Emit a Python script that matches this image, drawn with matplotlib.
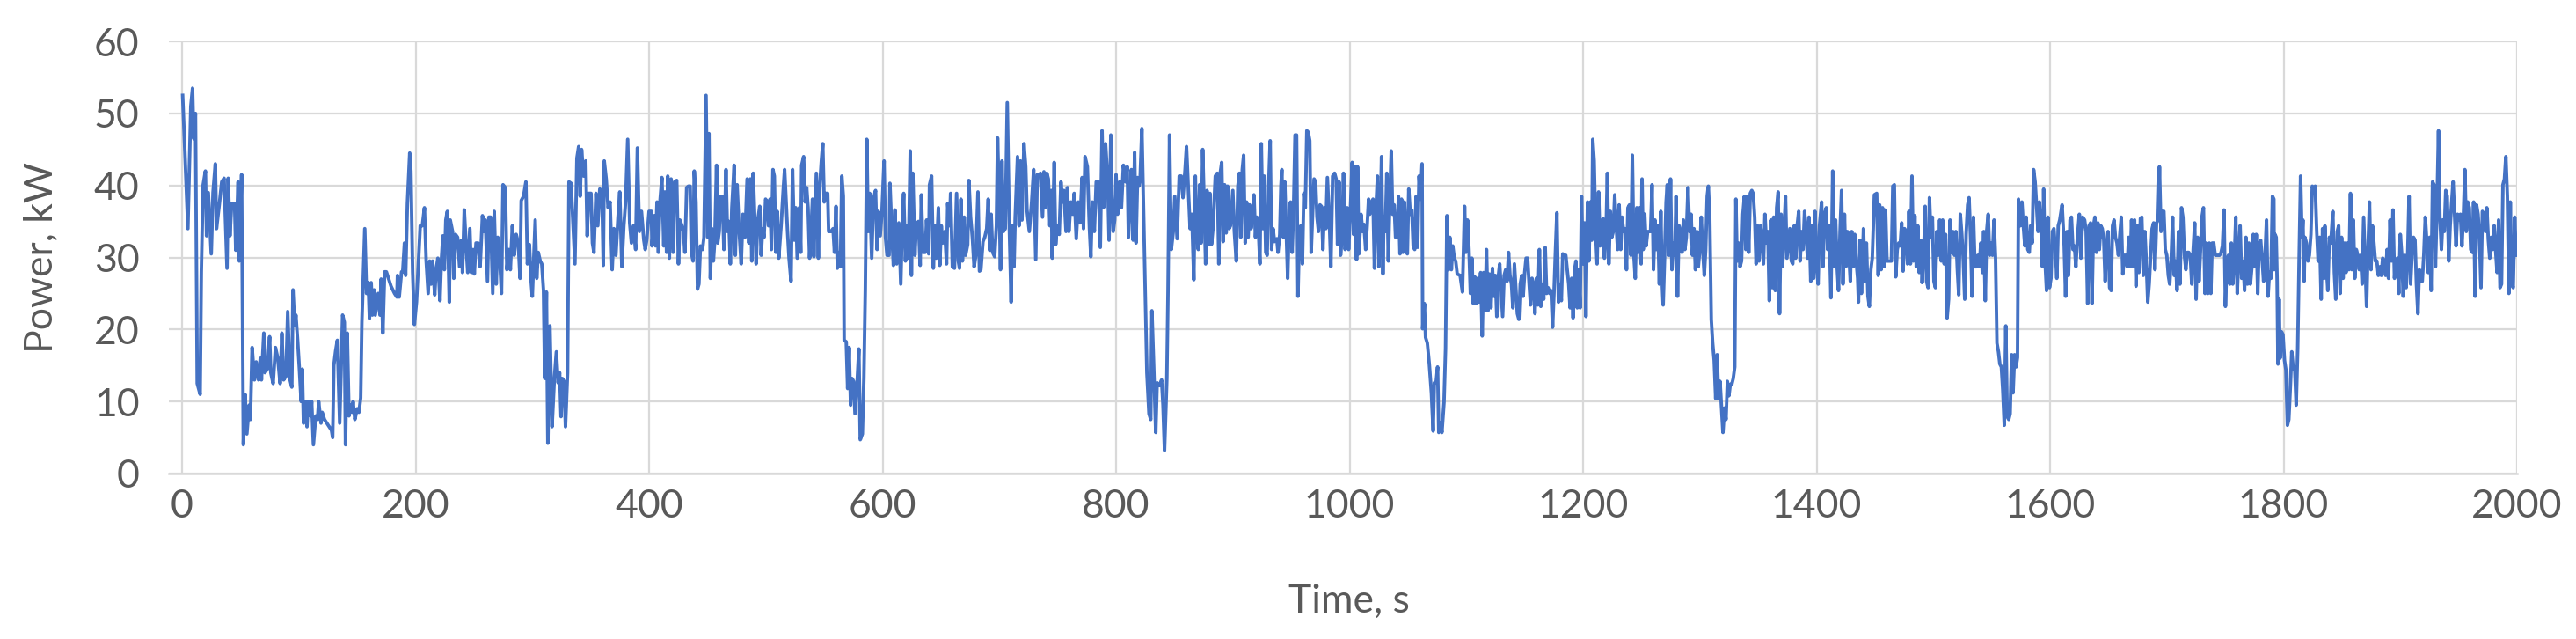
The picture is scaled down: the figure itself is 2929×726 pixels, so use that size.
import matplotlib
matplotlib.use("Agg")
import matplotlib.pyplot as plt

# (time s, power kW) readings, one list per 200-s stretch
seg_0000 = [(0.5,52.5),(5,34),(7.5,51),(9,53.5),(10,46.5),(11.5,50),(13,12.5),(15.5,11),(16.5,28),(18,40),
    (20,42),(21,33),(22.5,39),(25,30.5),(26.5,39),(28.5,43),(29.5,34),(32,37.5),(34,40.5),(36,41),
    (38.5,28.5),(39.5,41),(41,33),(42.5,37.5),(45,37.5),(46,31),(48,40.5),(49,29.5),(51,41.5),(52.5,4),
    (54,11),(55.5,5.5),(57.5,9.5),(58.5,7.5),(60,17.5),(62,13),(63.5,15.5),(65.5,13),(67,16),(68,13),
    (70,19.5),(71,14),(73,14.5),(75,19),(76,14),(78,12.5),(80,17.5),(82,16),(84,12.5),(85.5,19.5),
    (87,13),(89,13.5),(90.5,22.5),(92.5,13),(94,12),(95,25.5),(96.5,20.5),(97.5,22),(99,18.5),(100.5,14.5),
    (102,10),(103,14.5),(104,7),(105.5,10),(107,6.5),(108,10),(110,8),(111,10),(112.5,4),(114.5,8),
    (116,7.5),(117,10),(119,7),(120,8.5),(122,7.5),(124,7),(126,6.5),(128,6),(129,5),(130,15),
    (131.5,17),(133,18.5),(135,7),(137.5,22),(139,21),(140,4),(141.5,19.5),(143,8),(144,9.5),(145.5,8.5),
    (146.5,10),(148,7.5),(150,9),(151.5,8.5),(153,10.5),(154,21),(156.5,34),(158,25),(159.5,26.5),(160.5,21.5),
    (162,26.5),(163,22),(164.5,25.5),(165.5,22),(168,25),(169.5,22),(170.5,27),(172,19.5),(173.5,28),(175,28),
    (177,27),(179,26),(182,25),(184,24.5),(184.5,27.5),(186,24.5),(188,28),(189,28),(190.5,32),(191.5,27.5),
    (193,37.5),(195,44.5),(196,42),(197.5,28),(199,20.7)]

seg_0200 = [(200.8,23.8),(202.5,29.5),(204,34.4),(205.8,34.4),(207.6,36.9),(209.1,29.5),(210.8,25),(212.1,29.5),
    (213.3,26.3),(214.6,29.5),(216.4,24.8),(217.6,28.3),(219.1,29.9),(220.9,24),(222.1,29.5),(223.4,33),
    (224.7,28.3),(225.9,35.2),(227.2,36.4),(228.9,23.8),(229.7,35.2),(231.7,33.6),(232.7,27.1),(234.2,33.2),
    (236,32.8),(237.7,28.7),(239.2,32.4),(240.2,27.9),(241.7,36.6),(243.5,31.1),(244.7,27.9),(246.5,34),
    (247.8,27.9),(249.3,31.1),(250.3,27.7),(251.8,32),(253.5,32),(255.3,28.7),(257.3,35.8),(258.6,33.6),
    (259.8,35.2),(261.6,26.7),(262.8,35.6),(264.3,35.6),(266.1,25),(267.4,36.4),(269.1,26.3),(270.4,32.8),
    (271.9,30.3),(273.6,25),(274.9,40.1),(276.9,39.7),(278.2,28.3),(279.9,31.1),(281.2,28.3),(282.9,34.4),
    (284.5,30.3),(286.2,33.2),(288,32),(289.5,27.1),(290.5,37.9),(292.5,38.5),(294.5,40.5),(295.8,29.1),
    (297.5,31.8),(298.8,27.1),(300,24.6),(301.3,30.3),(302.5,35.2),(303.8,27.1),(305.1,30.7),(306.8,29.5),
    (308.1,29.1),(309.6,25.4),(310.6,13.2),(312.1,25.2),(313.3,4.2),(315.1,20.5),(316.9,6.5),(318.9,13.2),
    (320.6,16.9),(322.1,12.6),(323.4,14),(324.6,7.9),(325.7,13.2),(327.2,12.8),(328.4,6.5),(330.2,14),
    (331.4,40.5),(333.2,40.3),(334.7,35.2),(336.5,29.1),(338.2,43.8),(339.7,45.4),(341,38.5),(342.2,45),
    (344,41.3),(345.8,43.4),(347,33),(348.3,38.9),(350.3,38.9),(351.5,32),(352.8,30.7),(354.5,38.9),
    (356.1,34.4),(357.8,39.5),(359.6,39.3),(360.8,28.9),(361.6,43.4),(363.3,40.9),(364.9,36.9),(366.6,37.7),
    (368.4,28.3),(369.9,34),(371.6,30.3),(373.4,35.6),(374.9,39.1),(376.7,28.7),(378.4,34.4),(379.9,37.7),
    (381.7,46.4),(383.4,34.8),(384.9,32),(386.7,34.4),(388.5,31.1),(390,45.2),(391.7,33.6),(393.5,36.4),
    (395.5,32.4),(396.7,31.1)]

seg_0400 = [(398,32.4),(400,36.4),(402,36.4),(402.5,31.6),(404.3,35.8),(405.6,31.6),(406.8,37.7),(408,30.7),
    (409.3,37.7),(411,41.1),(412.6,31.6),(413.6,39.1),(415,30.7),(416,41.3),(417.4,29.9),(418.9,40.9),
    (420.6,30.7),(421.9,40.5),(423.7,40.7),(425.2,29.1),(426.4,35.2),(428.2,34.4),(429.4,33.6),(430.7,30.7),
    (432.2,39.7),(433.7,39.9),(435.2,39.9),(436.2,30.7),(437.7,29.5),(438.7,42),(440.2,37.7),(441.5,25.6),
    (442.7,26.3),(444,31.6),(445.8,31.1),(447,32.8),(448.8,52.5),(450.3,32.8),(451.3,47.2),(452.5,27.1),
    (453.8,34),(455.1,29.5),(456.3,32.4),(457.8,42.8),(458.8,32),(460.1,33.6),(461.3,38.5),(462.8,38.5),
    (464.1,31.1),(465.9,42.2),(467.1,33.6),(468.4,35),(469.6,29.1),(470.9,36.9),(472.9,42.8),(473.9,30.3),
    (475.4,40.1),(477.2,33.6),(478.9,29.1),(480.4,36),(482.2,32.8),(484,40.9),(485.5,32),(486.7,40.9),
    (488,29.5),(489.2,41.7),(490.5,35.6),(491.7,29.1),(493,35),(494.8,37.1),(496,30.3),(497.3,34),
    (498.5,32.8),(499.8,38.1),(501,37.7),(502.3,34.4),(503.6,38.1),(504.8,31.1),(506.1,42.2),(507.3,41.3),
    (508.6,30.7),(509.8,36.4),(511.1,29.9),(513.1,34.4),(514.9,39.3),(516.1,42.2),(517.4,37.7),(518.6,33.6),
    (519.9,29.9),(521.6,26.7),(522.9,42.2),(524.4,32.4),(525.7,36.9),(526.9,29.9),(528.7,36.9),(529.9,30.7),
    (530.7,42.8),(532.4,44),(533.7,37.7),(535,39.7),(536.2,36.9),(537.5,29.9),(538.7,33.6),(540,38.1),
    (541.2,30.1),(543.3,41.7),(545,29.9),(546.3,40.1),(547.5,43.2),(548.8,45.8),(550,37.7),(551.3,38.9),
    (553,38.9),(553.8,33.6),(555.8,33.6),(557.6,34),(558.8,30.7),(560.1,37.1),(561.3,28.5),(562.6,30.7),
    (563.9,28.7),(565.1,41.3),(566.4,38.5),(567.1,18.5),(568.9,18.3),(570.1,11.8),(571.4,17.5),(572.6,9.5),
    (573.9,13.2),(575.2,12.8),(576.4,8.3),(578.4,13.2),(579.7,17.3),(580.9,4.7),(582.7,5.5),(584,13.2),
    (585.2,25.4),(586.5,46.4),(587.7,33.6),(589,38.9),(590.7,29.9),(592.2,38.1),(594,39.3),(595.3,31.1)]

seg_0600 = [(596.3,36.4),(598,33),(599.5,36.4),(601.3,43.4),(602.5,32.8),(603.8,30.3),(605.6,30.3),(606.3,40.3),
    (608.1,32.8),(609.3,28.9),(610.6,36.6),(612.1,29.1),(613.9,34.8),(615.6,26.3),(616.9,34.8),(618.1,38.9),
    (619.6,29.5),(620.9,34.4),(622.1,29.9),(623.7,44.8),(624.7,27.5),(625.9,41.7),(627.7,30.3),(628.9,34.4),
    (630.7,35),(632.2,28.9),(633.2,38.7),(634.7,30.7),(636.5,30.7),(637.7,35.2),(639.5,30.5),(640.2,40.1),
    (642,41.3),(643.5,28.5),(644.8,34.4),(646,29.9),(647.8,36.9),(649,28.9),(650.3,34.4),(651.5,32),
    (653.3,33.6),(654.8,29.1),(655.8,37.5),(657.3,34.4),(658.3,38.9),(659.8,28.7),(661.6,28.5),(663.4,38.9),
    (664.9,29.5),(665.9,28.5),(667.1,38.1),(668.4,29.5),(669.9,35.6),(671.1,30.3),(672.9,31.8),(673.9,40.7),
    (675.4,35.6),(676.9,32.8),(678.4,28.7),(679.9,30.3),(681.7,39.1),(683,28.1),(684.2,28.3),(686,32.2),
    (687.5,32.8),(689.2,34),(690.5,38.1),(691.7,31),(693,36),(694.3,30.7),(696,30.1),(697.5,34.4),
    (698.5,46.6),(700,37.7),(701,28.3),(702.3,43.4),(703.6,33.6),(705.1,34),(706.8,51.5),(708.6,34),
    (710.1,23.8),(711.1,34.4),(712.6,28.7),(713.6,35.6),(715.6,44),(716.9,34.4),(718.1,43.4),(719.4,35.2),
    (721.1,45.8),(722.6,42.6),(723.7,36.6),(725.7,33.6),(727.7,37.7),(729.4,42.2),(731.2,29.7),(732.5,41.5),
    (733.7,41.3),(735.2,41.7),(737,35.6),(738.2,41.9),(739.5,36.9),(740.7,41.7),(742,40.9),(743.3,34.4),
    (744.5,39.3),(745.3,29.9),(747,43.2),(748.3,31.8),(749.5,34.4),(751.3,33.2),(752.8,40.5),(754.1,37.7),
    (755.3,39.3),(757.1,33.6),(758.3,39.7),(759.6,33.6),(761.3,37.7),(762.9,36),(764.1,38.9),(765.9,32.6),
    (767.6,37.7),(769.1,34.8),(770.9,41.1),(772.1,34),(773.4,44),(775.4,42.6),(777.2,34),(778.4,30.1),
    (779.7,37.7),(781.4,33.6),(783,40.5),(784.7,40.5),(786.5,31.4),(788,47.6),(789.2,36.9),(791,45.8),
    (792.8,40.9),(794,32.4),(795.5,47)]

seg_0800 = [(796.3,38.5),(797.5,33.6),(798.8,35.2),(800,41.5),(801.3,36),(803.1,40.5),(804.6,36.9),(806.3,42.8),
    (808.1,40.5),(809.6,42.6),(810.6,32.8),(812.1,37.7),(813.1,42.2),(814.6,32.4),(815.9,44.6),(817.1,32),
    (818.4,41.1),(819.6,39.9),(820.6,40.9),(822.1,47.9),(823.9,33.6),(825.2,23),(826.4,14),(828.2,8.3),
    (829.7,7.5),(830.7,22.6),(832.2,15.2),(834,5.7),(835.2,12.6),(837.2,12.2),(839,13),(840.2,9.5),
    (841.5,3.2),(843.5,13.2),(844.5,25.4),(845.8,47),(847.3,31.1),(849,33.6),(850.3,38.5),(852.3,32.6),
    (854.1,41.3),(855.8,41.3),(857.3,38.3),(859.1,42.2),(860.3,45.4),(861.6,40.5),(863.4,34),(864.9,36),
    (866.6,26.9),(867.9,41.3),(869.1,33.6),(870.4,31.1),(871.6,40.1),(872.9,32),(874.2,45),(875.4,37.7),
    (876.7,29.1),(877.9,39.3),(879.2,31.8),(880.4,38.9),(881.7,31.8),(883,34),(885,41.3),(886.7,41.7),
    (888,29.1),(889.2,41.7),(890.5,43.2),(891.7,32.2),(893,40.1),(894.3,33.4),(895.5,39.9),(896.8,34),
    (898,34.4),(900,39.3),(901.3,33.6),(903,29.5),(904.3,39.9),(905.6,41.7),(906.8,32.8),(908.1,42.2),
    (909.3,44.2),(910.6,32),(911.8,37.7),(913.1,32.8),(914.4,37.3),(915.6,34),(916.9,35.6),(918.1,38.7),
    (919.4,32.8),(920.6,35.6),(921.9,34),(923.2,29.1),(924.4,45.8),(925.7,34),(926.9,41.3),(928.2,30.7),
    (929.4,30.3),(930.7,39.9),(932,46.2),(933.2,31.1),(934.5,34),(935.7,32.2),(937.7,32.6),(938.7,30.7),
    (940.2,33.2),(941.2,39.9),(942,42.2),(943.3,32.8),(944.5,40.5),(945.8,33.6),(947,27.1),(948.3,35.2),
    (949.5,37.7),(950.8,30.7),(952,36.4),(953.3,47),(954.6,47),(955.8,24.6),(957.1,34),(958.3,34.4),
    (959.6,29.1),(960.8,38.9),(962.1,36.9),(963.4,47.6),(964.6,47.4),(965.9,46.2),(967.1,30.7),(968.4,36.4),
    (969.6,40.9),(970.9,40.5),(972.1,35.6),(973.4,33.6),(974.7,37.3),(975.9,37.1),(977.2,31.1),(978.4,36.9),
    (979.7,34),(981,41.1),(983,33.6),(984,28.7),(985.5,41.3),(987.2,41.7),(988.5,40.9),(989.7,31.8),
    (991,40.5),(992.3,30.3),(993.5,32.8),(994.8,41.7)]

seg_1000 = [(996.2,31.1),(998,36.9),(999.2,31.1),(1000.5,35.6),(1002.2,43.2),(1003.5,33.2),(1004.8,42.6),(1006,29.7),
    (1006.8,42.6),(1008,30.5),(1009.8,36),(1011.3,33.6),(1012.3,34.6),(1013.8,31.1),(1015.1,34.4),(1016.3,38.1),
    (1017.3,36),(1018.8,37.7),(1020.1,38.1),(1021.3,28.5),(1022.4,36),(1023.9,41.3),(1025.1,28.7),(1026.1,33.6),
    (1027.4,44),(1028.6,27.7),(1029.4,35.6),(1030.6,33.6),(1031.9,41.7),(1033.2,29.5),(1034.4,37.7),(1035.7,44.8),
    (1036.9,36),(1038.2,37.3),(1039.4,32.8),(1040.7,32.8),(1041.9,38.5),(1043.2,30.5),(1044.5,38.1),(1045.7,30.7),
    (1047,37.7),(1048.2,32.8),(1049.5,30.5),(1050.7,39.5),(1052,36),(1053.3,36.6),(1054.5,31.6),(1055.8,31.1),
    (1057,38.5),(1058.3,31.4),(1059.5,41.3),(1060.8,38.1),(1062.1,43),(1062.6,20.1),(1064.1,23.6),(1065.1,18.9),
    (1066.6,18.1),(1068.3,15.2),(1070.1,11.2),(1071.6,5.9),(1072.6,12.6),(1074.1,12.6),(1075.4,14.8),(1076.4,5.7),
    (1077.9,7.1),(1079.1,5.7),(1080.9,9.9),(1082.2,17.3),(1083.4,35.8),(1084.7,28.3),(1085.9,32.8),(1087.2,28.3),
    (1088.4,31.6),(1089.7,29.9),(1090.9,29.5),(1092.2,27.7),(1094.7,27.5),(1096.7,25.2),(1098.5,37.1),(1099.7,30.7),
    (1101,35.2),(1102.3,31.1),(1103.5,25),(1104.8,29.9),(1106,23.6),(1107.3,27.3),(1108.5,23.6),(1109.8,27.1),
    (1111,23.8),(1112.3,27.9),(1113.6,19.1),(1114.8,27.9),(1116.1,22.6),(1117.3,31.1),(1118.6,22.6),(1119.8,27.7),
    (1121.1,23),(1122.4,28.5),(1123.6,24.6),(1124.9,27.5),(1126.1,21.8),(1127.4,27.3),(1128.6,29.1),(1129.9,25.4),
    (1131.1,21.8),(1132.4,27.5),(1133.7,28.3),(1134.9,26.7),(1136.2,30.7),(1137.4,27.5),(1138.7,26.3),(1139.9,23),
    (1141.2,29.1),(1142.5,25.4),(1143.7,22.2),(1145,21.4),(1146.2,26.3),(1147.5,27.5),(1148.7,24.6),(1150,27.9),
    (1151.2,29.9),(1152.5,29.9),(1153.8,26.3),(1155,23.4),(1156.3,27.1),(1157.5,26.3),(1158.8,22.2),(1160,27.1),
    (1161.3,23.4),(1162.6,31.1),(1163.8,23.2),(1165.1,26.3),(1166.3,24.2),(1167.6,31.4),(1168.8,25),(1170.1,25.8),
    (1171.4,25),(1172.6,25.4),(1173.9,20.3),(1175.1,25),(1176.4,31.1),(1177.6,36.2),(1178.9,23.8),(1180.1,26.3),
    (1181.4,24),(1182.6,30.5),(1183.9,30.3),(1185.2,30.3),(1186.4,28.3),(1187.7,26.3),(1188.9,23),(1190.2,27.1),
    (1191.4,21.6),(1192.7,28.3),(1193.9,29.5)]

seg_1200 = [(1195,23),(1196.2,28.3),(1197.5,23),(1198.7,38.5),(1200,29.1),(1201.3,34.8),(1202.5,21.8),(1203.8,37.7),
    (1205,29.5),(1206.3,37.7),(1207.5,32.4),(1208.3,46.4),(1209.5,43.4),(1210.8,33.6),(1212,29.1),(1213.3,39.1),
    (1214.6,31.6),(1215.8,34.4),(1217.1,35.4),(1218.3,29.9),(1219.6,32.8),(1220.8,41.7),(1222.1,29.1),(1223.4,36.4),
    (1224.6,32.8),(1225.9,33.6),(1227.1,38.7),(1228.4,34.4),(1229.6,31.1),(1230.9,37.3),(1232.2,31.1),(1233.4,35.6),
    (1234.7,33.6),(1235.9,34),(1237.2,28.3),(1238.4,36.9),(1239.7,37.3),(1241,30.3),(1242.2,44.2),(1243.5,30.3),
    (1244.7,27.1),(1246,36.9),(1247.2,30.7),(1248.5,36.9),(1249.7,29.1),(1250.5,40.9),(1251.5,31.1),(1252.8,36),
    (1254,31.6),(1255.3,33.6),(1256.5,33.6),(1257.8,33.6),(1259.1,40.1),(1260.3,28.3),(1261.6,35.2),(1262.8,31.1),
    (1264.1,34.4),(1265.3,26.3),(1266.6,36.4),(1267.8,26.3),(1268.6,23.4),(1269.8,29.9),(1271.1,37.7),(1272.1,40.1),
    (1273.6,30.3),(1274.9,40.9),(1276.1,28.3),(1277.4,32),(1278.6,30.3),(1279.6,38.5),(1280.9,24.6),(1282.2,34.4),
    (1283.4,33.6),(1284.7,30.7),(1285.9,35.2),(1287.2,31.1),(1288.4,32.8),(1289.9,39.7),(1291.2,33.6),(1292.5,36),
    (1293.7,30.3),(1295,34),(1296.2,28.3),(1297.5,33.6),(1298.7,28.7),(1300,31.1),(1301.2,35.6),(1302.5,31.1),
    (1303.8,27.5),(1305,31.1),(1306.3,38.5),(1307.3,39.9),(1308.5,35.6),(1309.8,21.4),(1311,18.1),(1312.3,15.7),
    (1313.6,10.4),(1314.8,16.5),(1316.1,10.4),(1317.3,12.8),(1318.6,9.1),(1319.8,5.7),(1321.1,9.1),(1322.4,7.5),
    (1323.6,12.8),(1324.9,10.8),(1326.1,12.4),(1327.4,12.4),(1328.6,13.2),(1329.9,14.8),(1330.9,38.1),(1331.9,29.5),
    (1333.2,32),(1334.4,28.7),(1335.7,29.5),(1336.9,36),(1338.2,38.5),(1339.4,31.1),(1340.7,38.5),(1341.9,30.7),
    (1343.2,38.9),(1344.5,39.3),(1345.7,38.9),(1347,35.6),(1348.2,29.1),(1349.5,34.4),(1350.7,29.5),(1352,34.4),
    (1353.3,32.8),(1354.5,29.1),(1355.8,36),(1357,32),(1358.3,33.6),(1359.5,24),(1360.8,35.2),(1362.1,25.8),
    (1363.3,35.6),(1364.6,25.4),(1365.8,36.9),(1367.1,39.1),(1368.3,22.2),(1369.6,36),(1370.9,28.7),(1372.1,33.6),
    (1373.4,38.5),(1374.6,29.9),(1375.9,32),(1377.1,34),(1378.4,29.5),(1379.6,29.1),(1380.9,34.4),(1382.1,29.9),
    (1383.4,34.4),(1384.7,36.4),(1385.9,29.5),(1387.2,33.6),(1388.4,31.1),(1389.7,36.4),(1390.9,34),(1392.2,29.9),
    (1393.5,35.6)]

seg_1400 = [(1395,26.7),(1396.2,34.4),(1397.5,27.1),(1398.7,36.4),(1400,29.1),(1401.3,26.3),(1402.5,34.4),(1404.3,37.7),
    (1405.5,28.7),(1406.8,36),(1408.3,36.9),(1409.5,31.1),(1410.8,34.4),(1412.3,24.4),(1413.8,42),(1415.1,28.7),
    (1416.3,35.2),(1417.6,28.7),(1418.8,25.4),(1420.1,33.6),(1421.4,39.3),(1422.6,26.3),(1423.9,36),(1425.1,28.7),
    (1426.4,33.6),(1427.6,30.7),(1428.9,26.7),(1430.1,33.6),(1431.4,28.7),(1432.7,33.2),(1433.9,29.5),(1435.2,27.1),
    (1435.9,23.8),(1437.2,32.4),(1438.4,25),(1440.2,34),(1441.4,26.7),(1442.7,32),(1444,24.6),(1445.2,23.2),
    (1446.5,28.3),(1447.7,29.9),(1449.5,38.7),(1451.5,38.9),(1452.8,27.5),(1454,37.3),(1455.3,28.3),(1456.5,36.9),
    (1457.8,28.7),(1459.1,36.6),(1460.3,29.5),(1462.8,29.5),(1464.1,29.5),(1465.3,39.9),(1466.6,40.1),(1467.8,27.3),
    (1469.1,31.1),(1470.3,32),(1471.6,31.6),(1472.9,34.8),(1474.1,28.1),(1475.4,34),(1476.6,33.6),(1477.9,29.1),
    (1479.1,36.4),(1480.4,29.1),(1481.7,41.3),(1482.9,29.5),(1484.2,35.8),(1485.4,28.7),(1486.7,34.4),(1487.9,27.9),
    (1489.2,32.4),(1490.4,26.5),(1491.7,30.3),(1493,37.1),(1494.2,26.7),(1495.5,25.8),(1496.7,38.3),(1498,32.8),
    (1499.2,35.6),(1500.5,26.7),(1501.8,25.8),(1503,33.6),(1504.3,30.3),(1505.5,35.2),(1506.8,29.5),(1508,35.2),
    (1509.3,29.1),(1510.5,33.2),(1511.8,21.6),(1513.1,24.2),(1514.3,35.2),(1515.6,30.7),(1516.8,33.6),(1518.1,30.3),
    (1519.3,33.6),(1520.6,28.3),(1521.8,24.8),(1523.1,36),(1524.4,33.2),(1525.6,29.9),(1526.9,24.2),(1528.1,33.2),
    (1529.4,37.3),(1530.6,38.3),(1531.9,32.8),(1533.2,24.6),(1534.4,35.6),(1535.7,28.7),(1536.9,28.7),(1538.2,30.3),
    (1539.4,28.7),(1540.7,32),(1542,27.9),(1543.2,33.6),(1544.5,24),(1545.7,33.6),(1547,36),(1548.2,30.3),
    (1549.5,32),(1550.7,30.3),(1552,35.2),(1553.3,29.9),(1554.5,18.1),(1555.8,16.9),(1557,15.2),(1558.3,14.8),
    (1559.5,11.6),(1560.8,6.7),(1562.1,20.5),(1563.3,7.9),(1564.6,7.5),(1565.8,8.3),(1567.1,16.5),(1568.3,11.2),
    (1569.6,16.5),(1570.9,14.8),(1572.1,16.1),(1572.9,38.1),(1574.6,34.4),(1575.9,37.7),(1577.1,34.4),(1578.4,31.6),
    (1579.6,35.6),(1580.9,31.1),(1582.2,30.7),(1583.4,34.4),(1584.7,32),(1585.9,42.2),(1587.2,40.5),(1588.4,37.3),
    (1589.7,33.6),(1590.9,37.7),(1592.2,34),(1593.5,28.7)]

seg_1600 = [(1594.5,39.5),(1595.7,29.5),(1597,25.4),(1598.2,35.6),(1599.5,25.8),(1600.8,27.1),(1602,33.6),(1603.3,34),
    (1604.5,31.1),(1605.8,27.1),(1607,34.4),(1608.3,35.2),(1610.3,37.3),(1612.1,31.6),(1613.3,24.6),(1614.6,33.6),
    (1615.8,27.5),(1617.1,35.2),(1618.3,35.6),(1619.6,31.1),(1620.9,31.6),(1622.1,28.7),(1623.4,32.8),(1625.1,36),
    (1626.4,29.9),(1627.9,35.6),(1629.6,35.2),(1630.9,33.6),(1632.2,23.6),(1633.4,34.4),(1634.7,34.8),(1635.9,23.6),
    (1637.2,34.4),(1638.4,35.6),(1639.7,30.7),(1641,34.8),(1642.2,31.1),(1643.5,34.4),(1644.7,34),(1646,32.4),
    (1647.2,26.7),(1648.5,32),(1649.7,33.6),(1651,25.8),(1652.3,25.4),(1653.5,34.4),(1654.8,35.2),(1656,32.8),
    (1657.3,32),(1658.5,30.3),(1659.8,33.2),(1661,35.6),(1662.3,27.7),(1663.6,30.3),(1664.8,30.3),(1666.1,28.7),
    (1667.3,32.8),(1668.6,28.7),(1669.8,35.2),(1671.1,28.7),(1672.4,35.2),(1673.6,26),(1674.9,34.4),(1676.1,27.9),
    (1677.4,35.4),(1678.6,35.6),(1679.9,27.5),(1681.2,33.6),(1682.4,29.5),(1683.7,23.8),(1684.9,26.3),(1686.2,30.3),
    (1687.4,34),(1688.7,34.8),(1689.9,28.3),(1691.2,34.8),(1692.5,35.2),(1693.7,42.6),(1695,33.6),(1696.2,36.4),
    (1697.5,36.4),(1698.7,31.1),(1700,30.3),(1701.3,27.5),(1702.5,26.3),(1703.8,29.9),(1705,35.6),(1706.3,27.5),
    (1707.5,29.5),(1708.8,25.4),(1710,33.6),(1711.3,26.3),(1712.6,36.9),(1713.8,35.6),(1715.1,30.3),(1716.3,28.3),
    (1717.6,30.7),(1718.8,30.7),(1720.1,30.3),(1721.4,26.3),(1722.6,31.1),(1723.9,34.8),(1725.1,24.2),(1726.4,32.8),
    (1727.6,26.7),(1728.9,31.1),(1730.1,35.6),(1731.4,36.9),(1732.7,25),(1733.9,32),(1735.2,25),(1736.4,32),
    (1737.7,25),(1738.9,32),(1740.2,32),(1741.5,30.3),(1742.7,30.3),(1744,30.3),(1745.2,30.3),(1746.5,30.7),
    (1747.7,31.6),(1749,36.6),(1750.2,23.2),(1751.5,29.5),(1752.8,30.3),(1754,26.3),(1755.3,32),(1756.5,26.3),
    (1757.8,29.5),(1759.1,35.6),(1760.3,25),(1761.6,30.3),(1762.8,34.4),(1764.1,27.1),(1765.3,29.5),(1766.6,25.4),
    (1767.8,32.8),(1769.1,26.3),(1770.3,32),(1771.6,26.3),(1772.9,28.7),(1774.1,33.2),(1775.4,28.7),(1776.6,33.2),
    (1777.9,25),(1779.1,32),(1780.4,32.4),(1781.6,29.9),(1782.9,26.7),(1784.2,30.3),(1785.4,35.2),(1786.7,24.6),
    (1787.9,27.9),(1789.2,27.1),(1790.5,38.5),(1791.7,38.1)]

seg_1800 = [(1792,28.3),(1792.7,33.2),(1793.7,32.8),(1794.5,26.7),(1795.2,15.2),(1796.2,24.2),(1797,16),(1798.2,19.7),
    (1799.5,19.3),(1800.8,15.7),(1802,14.4),(1803.3,6.7),(1804.5,7.5),(1805.8,12),(1807,16.9),(1808.3,14.6),
    (1809.5,14.8),(1810.8,9.5),(1812.1,17.3),(1813.3,29.5),(1814.6,41.3),(1815.8,32.8),(1816.6,35.2),(1817.6,26.7),
    (1818.3,32.8),(1819.6,32),(1820.9,29.5),(1822.1,30.3),(1823.4,33.2),(1824.6,39.9),(1825.9,39.3),(1827.1,39.9),
    (1828.4,33.6),(1829.6,29.5),(1830.9,32.8),(1832.2,24.2),(1833.4,34),(1834.7,27.1),(1835.4,34.4),(1836.7,28.7),
    (1837.9,25.4),(1839.2,32.8),(1840.5,32),(1842.2,36.4),(1843.5,27.9),(1844.7,24.2),(1846,33.6),(1847.2,34.4),
    (1848.5,25),(1849.7,32.8),(1851,27.1),(1852.3,32),(1853.5,27.9),(1854.8,32),(1856,28.3),(1857.3,38.9),
    (1858.5,28.3),(1859.8,35.2),(1861,27.1),(1862.3,31.1),(1863.6,30.3),(1864.8,28.3),(1866.1,30.3),(1867.3,26.3),
    (1868.6,35.6),(1869.8,29.5),(1871.1,23.2),(1872.4,31.6),(1873.6,37.7),(1874.9,28.3),(1876.1,34.4),(1877.4,32),
    (1878.6,29.5),(1879.9,29.5),(1881.2,27.5),(1882.4,28.7),(1883.7,27.5),(1884.9,29.9),(1886.2,29.5),(1887.4,27.5),
    (1888.7,31.1),(1889.9,27.1),(1891.2,35.2),(1892.5,29.5),(1893.7,36.6),(1895,27.1),(1896.2,29.5),(1897.5,29.9),
    (1898.7,25),(1900,33.2),(1901.3,30.3),(1902.5,24.6),(1903.8,30.3),(1905,25.8),(1906.3,30.3),(1907.5,38.5),
    (1908.8,26.3),(1910,30.3),(1911.3,32.8),(1912.6,32.4),(1913.8,26.3),(1915.1,22.2),(1916.3,28.3),(1917.6,26.7),
    (1918.8,26.7),(1920.1,30.3),(1921.4,35.6),(1922.6,32.4),(1923.9,27.9),(1925.1,32.8),(1926.4,25.4),(1927.6,40.5),
    (1928.9,40.1),(1930.1,28.7),(1931.4,36.9),(1932.7,47.6),(1933.9,35.6),(1935.2,31.1),(1936.4,35.2),(1937.7,33.6),
    (1938.9,39.3),(1940.2,38.5),(1941.5,29.5),(1942.7,34.4),(1944,37.7),(1945.2,40.5),(1946.5,36),(1947.7,31.6),
    (1949,36),(1950.2,35.2),(1951.5,36),(1952.8,31.6),(1954,35.6),(1955.3,42.2),(1956.5,33.6),(1957.8,37.7),
    (1959.1,36.9),(1960.3,31.1),(1961.6,30.7),(1962.8,37.7),(1964.1,24.6),(1965.3,37.3),(1966.6,36),(1967.8,32.8),
    (1969.1,25.8),(1970.3,36.4),(1971.6,36),(1972.9,33.6),(1974.1,36.9),(1975.4,32.4),(1976.6,29.9),(1977.9,32.8),
    (1979.1,31.1),(1980.4,34.4),(1981.6,31.1),(1982.9,27.9),(1984.2,35.2),(1985.4,25.8),(1986.7,26.3),(1987.9,40.1),
    (1989.2,40.9),(1990.4,44),(1991.7,38.5),(1993,25),(1994.2,37.7),(1995.5,26.3),(1996.7,25.8),(1998,35.6),
    (1999.2,30.3)]

x_ticks = [0, 200, 400, 600, 800, 1000, 1200, 1400, 1600, 1800, 2000]
y_ticks = [0, 10, 20, 30, 40, 50, 60]
x_label = "Time, s"
y_label = "Power, kW"

readings = seg_0000 + seg_0200 + seg_0400 + seg_0600 + seg_0800 + seg_1000 + seg_1200 + seg_1400 + seg_1600 + seg_1800
time_s = [r[0] for r in readings]
power_kw = [r[1] for r in readings]

W, H = 2929, 726
TEXT = "#595959"
GRID = "#D9D9D9"
FONT = "Lato"

fig = plt.figure(figsize=(W / 100, H / 100), dpi=100)
left_px, right_px, top_px, bottom_px = 192, 2862, 47, 538
ax = fig.add_axes([left_px / W, 1 - bottom_px / H, (right_px - left_px) / W, (bottom_px - top_px) / H])

ax.plot(time_s, power_kw, color="#4472C4", lw=2.8, solid_joinstyle="round", zorder=3)

ax.set_xlim(-11.3, 2000)
ax.set_ylim(0, 60)
ax.set_xticks(x_ticks)
ax.set_yticks(y_ticks)
ax.grid(True, color=GRID, lw=1.6, zorder=0)
for s in ["top", "right", "left"]:
    ax.spines[s].set_visible(False)
ax.spines["bottom"].set_color(GRID)
ax.spines["bottom"].set_linewidth(1.8)
ax.tick_params(axis="both", length=0, labelcolor=TEXT, labelsize=32)
ax.tick_params(axis="x", pad=12)
ax.tick_params(axis="y", pad=24)
for lab in ax.get_xticklabels() + ax.get_yticklabels():
    lab.set_fontfamily(FONT)

fig.text(1534 / W, 1 - 683 / H, x_label, ha="center", va="center", color=TEXT, fontsize=32, family=FONT)
fig.text(47 / W, 1 - 292 / H, y_label, ha="center", va="center", rotation=90, color=TEXT, fontsize=32, family=FONT)

fig.savefig("out.png", dpi=100, facecolor="white")
